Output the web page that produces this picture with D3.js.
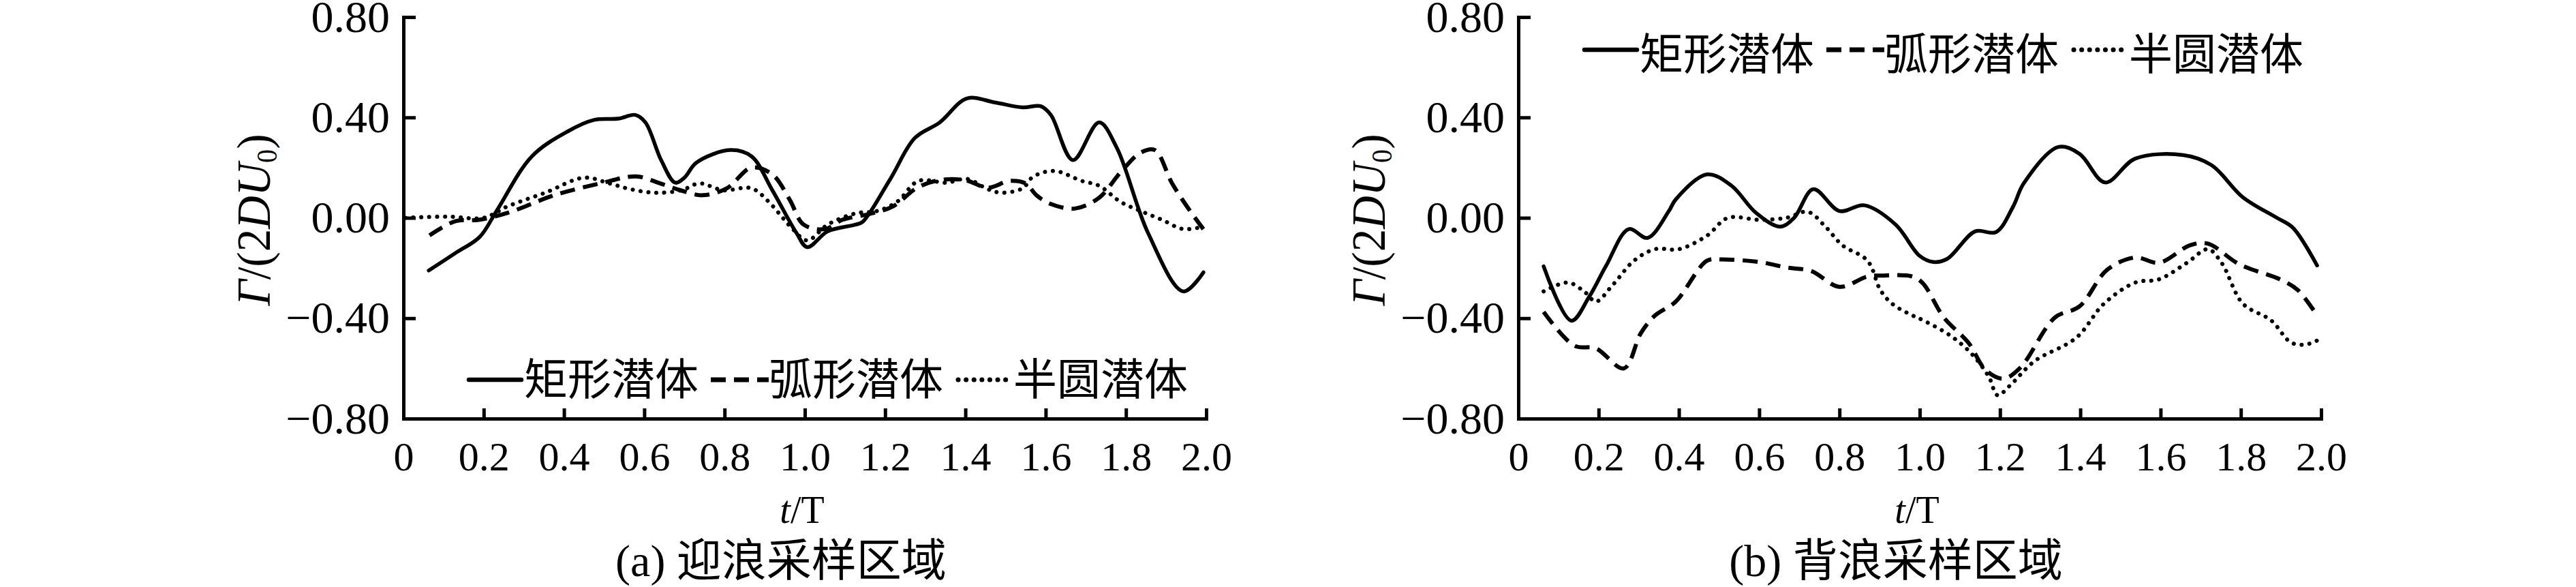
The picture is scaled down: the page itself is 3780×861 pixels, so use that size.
<!DOCTYPE html>
<html>
<head>
<meta charset="utf-8">
<script src="https://cdn.jsdelivr.net/npm/d3@7"></script>
<style>
    body { margin: 0; background: #fff; }
    svg { display: block; }
    text { font-family: "Liberation Serif", "Noto Sans CJK SC", serif; fill: #000; }
</style>
</head>
<body>
<div id="chart"></div>
<script>
// Axis ticks
var xTicks = [0, 0.2, 0.4, 0.6, 0.8, 1.0, 1.2, 1.4, 1.6, 1.8, 2.0];
var xTickLabels = ["0", "0.2", "0.4", "0.6", "0.8", "1.0", "1.2", "1.4", "1.6", "1.8", "2.0"];
var yTicks = [-0.8, -0.4, 0, 0.4, 0.8];
var yTickLabels = ["\u22120.80", "\u22120.40", "0.00", "0.40", "0.80"];

var seriesNames = ["矩形潜体", "弧形潜体", "半圆潜体"];
var captions = ["(a) 迎浪采样区域", "(b) 背浪采样区域"];

// (a) head-wave sampling zone, [t/T, value]
var aRect = [[0.063,-0.21],[0.13,-0.14],[0.19,-0.076],[0.233,0.03],[0.32,0.245],[0.41,0.345],[0.475,0.39],
    [0.535,0.395],[0.578,0.41],[0.603,0.38],[0.642,0.23],[0.677,0.14],[0.70,0.16],[0.73,0.22],[0.814,0.27],
    [0.867,0.245],[0.919,0.11],[0.979,-0.06],[1.006,-0.117],[1.057,-0.054],[1.127,-0.027],[1.144,-0.016],
    [1.213,0.155],[1.274,0.318],[1.336,0.38],[1.404,0.476],[1.473,0.46],[1.543,0.44],[1.587,0.445],
    [1.613,0.41],[1.668,0.23],[1.733,0.38],[1.777,0.28],[1.855,-0.06],[1.943,-0.293],[1.993,-0.217]];
var aArc = [[0.065,-0.07],[0.13,-0.013],[0.187,-0.008],[0.26,0.02],[0.376,0.09],[0.49,0.137],[0.58,0.165],
    [0.64,0.137],[0.69,0.11],[0.745,0.09],[0.806,0.118],[0.867,0.2],[0.919,0.173],[0.962,0.073],[0.997,-0.027],
    [1.05,-0.045],[1.093,-0.008],[1.16,0.015],[1.22,0.046],[1.28,0.12],[1.335,0.15],[1.40,0.15],[1.456,0.12],
    [1.51,0.147],[1.55,0.137],[1.577,0.09],[1.613,0.055],[1.673,0.037],[1.733,0.08],[1.786,0.18],[1.837,0.26],
    [1.872,0.27],[1.915,0.137],[1.96,0.027],[1.993,-0.045]];
var aSemi = [[0.005,0],[0.11,0.005],[0.2,0],[0.26,0.046],[0.353,0.1],[0.45,0.16],[0.513,0.137],[0.566,0.114],
    [0.627,0.1],[0.693,0.11],[0.737,0.137],[0.797,0.11],[0.867,0.118],[0.91,0.064],[0.945,0],[0.97,-0.045],
    [1.006,-0.09],[1.057,-0.027],[1.127,0.018],[1.18,0.027],[1.23,0.064],[1.283,0.147],[1.353,0.14],
    [1.404,0.155],[1.456,0.114],[1.49,0.1],[1.543,0.118],[1.568,0.163],[1.621,0.187],[1.69,0.147],
    [1.733,0.128],[1.786,0.064],[1.837,0.027],[1.89,-0.008],[1.943,-0.045],[1.993,-0.035]];

// (b) following-wave sampling zone
var bRect = [[0.063,-0.193],[0.132,-0.41],[0.176,-0.316],[0.219,-0.19],[0.275,-0.045],[0.322,-0.08],
    [0.375,0.027],[0.392,0.073],[0.47,0.173],[0.531,0.128],[0.592,0.02],[0.652,-0.035],[0.687,0],[0.735,0.114],
    [0.8,0.027],[0.862,0.05],[0.94,-0.027],[1.0,-0.152],[1.034,-0.176],[1.069,-0.163],[1.138,-0.054],
    [1.19,-0.057],[1.233,0.046],[1.259,0.137],[1.345,0.282],[1.398,0.255],[1.462,0.141],[1.537,0.236],
    [1.657,0.25],[1.727,0.21],[1.805,0.082],[1.89,0],[1.93,-0.04],[1.99,-0.19]];
var bArc = [[0.063,-0.375],[0.14,-0.51],[0.193,-0.52],[0.263,-0.6],[0.305,-0.46],[0.34,-0.39],[0.392,-0.334],
    [0.47,-0.171],[0.505,-0.166],[0.6,-0.176],[0.668,-0.198],[0.73,-0.212],[0.8,-0.275],[0.869,-0.234],
    [0.904,-0.23],[0.982,-0.234],[1.008,-0.261],[1.06,-0.397],[1.121,-0.497],[1.164,-0.606],[1.208,-0.641],
    [1.25,-0.598],[1.337,-0.397],[1.398,-0.353],[1.467,-0.207],[1.537,-0.158],[1.596,-0.179],[1.674,-0.109],
    [1.718,-0.103],[1.796,-0.185],[1.9,-0.247],[1.942,-0.288],[1.99,-0.389]];
var bSemi = [[0.063,-0.293],[0.124,-0.258],[0.168,-0.299],[0.193,-0.334],[0.236,-0.266],[0.288,-0.171],
    [0.34,-0.125],[0.4,-0.125],[0.47,-0.071],[0.522,0],[0.6,-0.008],[0.668,0],[0.721,0.024],[0.765,-0.035],
    [0.807,-0.109],[0.87,-0.171],[0.902,-0.288],[0.931,-0.342],[0.97,-0.38],[1.008,-0.408],[1.077,-0.47],
    [1.13,-0.543],[1.172,-0.633],[1.194,-0.707],[1.225,-0.668],[1.286,-0.571],[1.39,-0.478],[1.459,-0.342],
    [1.537,-0.258],[1.596,-0.245],[1.666,-0.179],[1.718,-0.125],[1.752,-0.179],[1.805,-0.342],[1.875,-0.408],
    [1.925,-0.497],[1.961,-0.505],[1.99,-0.489]];

// Layout
var width = 3780,
    height = 861,
    plotTop = 25,
    plotW = 1178,
    plotH = 589;

var panels = [
    { left: 592, series: [aRect, aArc, aSemi], legendX: 684, legendY: 557, legendDy: 22, caption: captions[0] },
    { left: 2228, series: [bRect, bArc, bSemi], legendX: 2321, legendY: 73, legendDy: 29, caption: captions[1] }
];

// line styles: solid, dashed, dotted
var styles = [
    { width: 5.5, dash: null, cap: "round" },
    { width: 6, dash: "22,12", cap: "butt" },
    { width: 6, dash: "0.1,11.5", cap: "round" }
];

var svg = d3.select("#chart").append("svg")
    .attr("width", width)
    .attr("height", height);

svg.append("rect").attr("width", width).attr("height", height).attr("fill", "#fff");

var x = d3.scaleLinear().domain([0, 2]).range([0, plotW]);
var y = d3.scaleLinear().domain([-0.8, 0.8]).range([plotH, 0]);

var line = d3.line()
    .x(function(d) { return x(d[0]); })
    .y(function(d) { return y(d[1]); })
    .curve(d3.curveCatmullRom.alpha(0.5));

panels.forEach(function(p) {
    var g = svg.append("g").attr("transform", "translate(" + p.left + "," + plotTop + ")");

    // curves
    p.series.forEach(function(s, i) {
        g.append("path")
            .datum(s)
            .attr("d", line)
            .attr("fill", "none")
            .attr("stroke", "#000")
            .attr("stroke-width", styles[i].width)
            .attr("stroke-dasharray", styles[i].dash)
            .attr("stroke-linecap", styles[i].cap)
            .attr("stroke-linejoin", "round");
    });

    // x axis, ticks pointing inward
    var gx = g.append("g")
        .attr("transform", "translate(0," + plotH + ")")
        .call(d3.axisBottom(x)
            .tickValues(xTicks)
            .tickFormat(function(d, i) { return xTickLabels[i]; })
            .tickSize(-15)
            .tickSizeOuter(0)
            .tickPadding(33));

    // y axis
    var gy = g.append("g")
        .call(d3.axisLeft(y)
            .tickValues(yTicks)
            .tickFormat(function(d, i) { return yTickLabels[i]; })
            .tickSize(-18)
            .tickSizeOuter(0)
            .tickPadding(20));

    [gx, gy].forEach(function(a) {
        a.select(".domain").attr("stroke-width", 5).attr("stroke-linecap", "square");
        a.selectAll(".tick line").attr("stroke-width", 5);
    });
    gx.selectAll("text").attr("font-size", 60);
    gy.selectAll("text").attr("font-size", 66);

    // axis titles
    var xt = g.append("text")
        .attr("x", plotW / 2 - 4)
        .attr("y", 742)
        .attr("text-anchor", "middle")
        .attr("font-size", 56);
    xt.append("tspan").attr("font-style", "italic").text("t");
    xt.append("tspan").text("/T");

    var yt = g.append("text")
        .attr("transform", "translate(-196," + (plotH / 2 + 3) + ") rotate(-90)")
        .attr("text-anchor", "middle")
        .attr("font-size", 70)
        .attr("textLength", 252)
        .attr("lengthAdjust", "spacingAndGlyphs");
    yt.append("tspan").attr("font-style", "italic").text("Γ");
    yt.append("tspan").text("/(2");
    yt.append("tspan").attr("font-style", "italic").text("DU");
    yt.append("tspan").attr("font-size", 42).attr("dy", 10).text("0");
    yt.append("tspan").attr("dy", -10).text(")");

    // caption
    g.append("text")
        .attr("x", plotW / 2 - 35)
        .attr("y", 845 - plotTop)
        .attr("text-anchor", "middle")
        .attr("font-size", 66)
        .text(p.caption);

    // legend
    var sampleLen = 85, textW = 260, gap = 14;
    var legend = svg.append("g").attr("transform", "translate(" + p.legendX + "," + p.legendY + ")");
    seriesNames.forEach(function(name, i) {
        var lx = i * (sampleLen + textW + gap);
        legend.append("line")
            .attr("x1", lx + (styles[i].cap === "round" ? 4 : 0))
            .attr("x2", lx + sampleLen - (styles[i].cap === "round" ? 4 : 0))
            .attr("y1", 0).attr("y2", 0)
            .attr("stroke", "#000")
            .attr("stroke-width", styles[i].width + 1)
            .attr("stroke-dasharray", styles[i].dash)
            .attr("stroke-linecap", styles[i].cap);
        legend.append("text")
            .attr("x", lx + sampleLen)
            .attr("y", p.legendDy)
            .attr("font-size", 64)
            .text(name);
    });
});
</script>
</body>
</html>
